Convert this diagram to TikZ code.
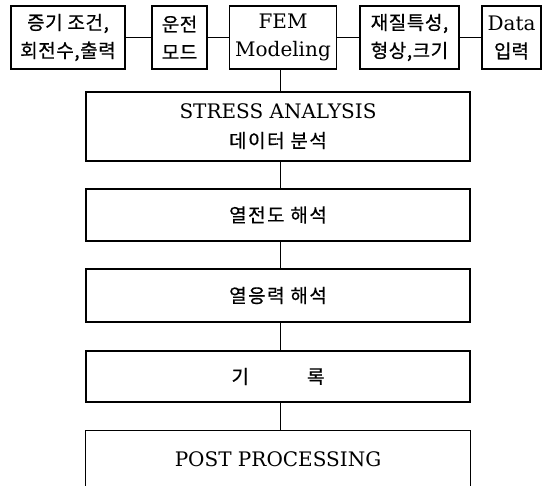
\documentclass[tikz,border=0pt]{standalone}
\usepackage{fontspec}
\setmainfont{DejaVu Serif}
\newfontfamily\kr[FakeBold=0.6]{Noto Sans CJK KR}
\begin{document}
\begin{tikzpicture}[x=1pt,y=-1pt,
  box/.style={draw, line width=1.1pt, inner sep=0pt, align=center},
  topbox/.style={box, minimum height=63pt},
  wide/.style={box, minimum width=384pt},
  lat/.style={font=\fontsize{20}{28}\selectfont},
  krs/.style={font=\kr\fontsize{19}{28}\selectfont\addfontfeature{LetterSpace=3}},
  krb/.style={font=\kr\fontsize{19}{29}\selectfont\addfontfeature{LetterSpace=8}},
  conn/.style={line width=1pt}]
\useasboundingbox (0,0) rectangle (549,486);
% top row
\node[topbox, krs, minimum width=114pt] (A) at (68,37.5) {증기 조건,\\회전수,출력};
\node[topbox, krs, minimum width=55pt] (B) at (179.5,37.5) {운전\\모드};
\node[topbox, lat, minimum width=107pt] (C) at (283,37.5) {FEM\\Modeling};
\node[topbox, krs, minimum width=99pt] (D) at (409.5,37.5) {재질특성,\\형상,크기};
\node[topbox, lat, minimum width=59pt] (E) at (511.5,37.5) {Data\\{\kr\fontsize{19}{28}\selectfont 입력}};
\draw[conn] (A) -- (B);
\draw[conn] (B) -- (C);
\draw[conn] (C) -- (D);
\draw[conn] (D) -- (E);
% stacked boxes
\node[wide, minimum height=69pt, font=\fontsize{20}{29}\selectfont] (S1) at (278,126.5) {STRESS ANALYSIS\\{\kr\fontsize{19}{29}\selectfont\addfontfeature{LetterSpace=8}데이터 분석}};
\node[wide, krb, minimum height=52pt] (S2) at (278,215) {열전도 해석};
\node[wide, krb, minimum height=53pt] (S3) at (278,295.5) {열응력 해석};
\node[wide, krb, minimum height=51pt] (S4) at (278,376.5) {기\hspace{58pt}록};
\node[inner sep=0pt, minimum width=384pt, minimum height=56pt, font=\fontsize{20}{28}\selectfont] (S5) at (278,459) {POST PROCESSING};
\draw[line width=1.1pt] (S5.south west) -- (S5.north west) -- (S5.north east) -- (S5.south east);
% vertical connectors
\draw[conn] ([xshift=-3pt]C.south) -- ([xshift=-3pt]C.south |- S1.north);
\draw[conn] ([xshift=2pt]S1.south) -- ([xshift=2pt]S2.north);
\draw[conn] ([xshift=2pt]S2.south) -- ([xshift=2pt]S3.north);
\draw[conn] ([xshift=2pt]S3.south) -- ([xshift=2pt]S4.north);
\draw[conn] ([xshift=2pt]S4.south) -- ([xshift=2pt]S5.north);
\end{tikzpicture}
\end{document}
